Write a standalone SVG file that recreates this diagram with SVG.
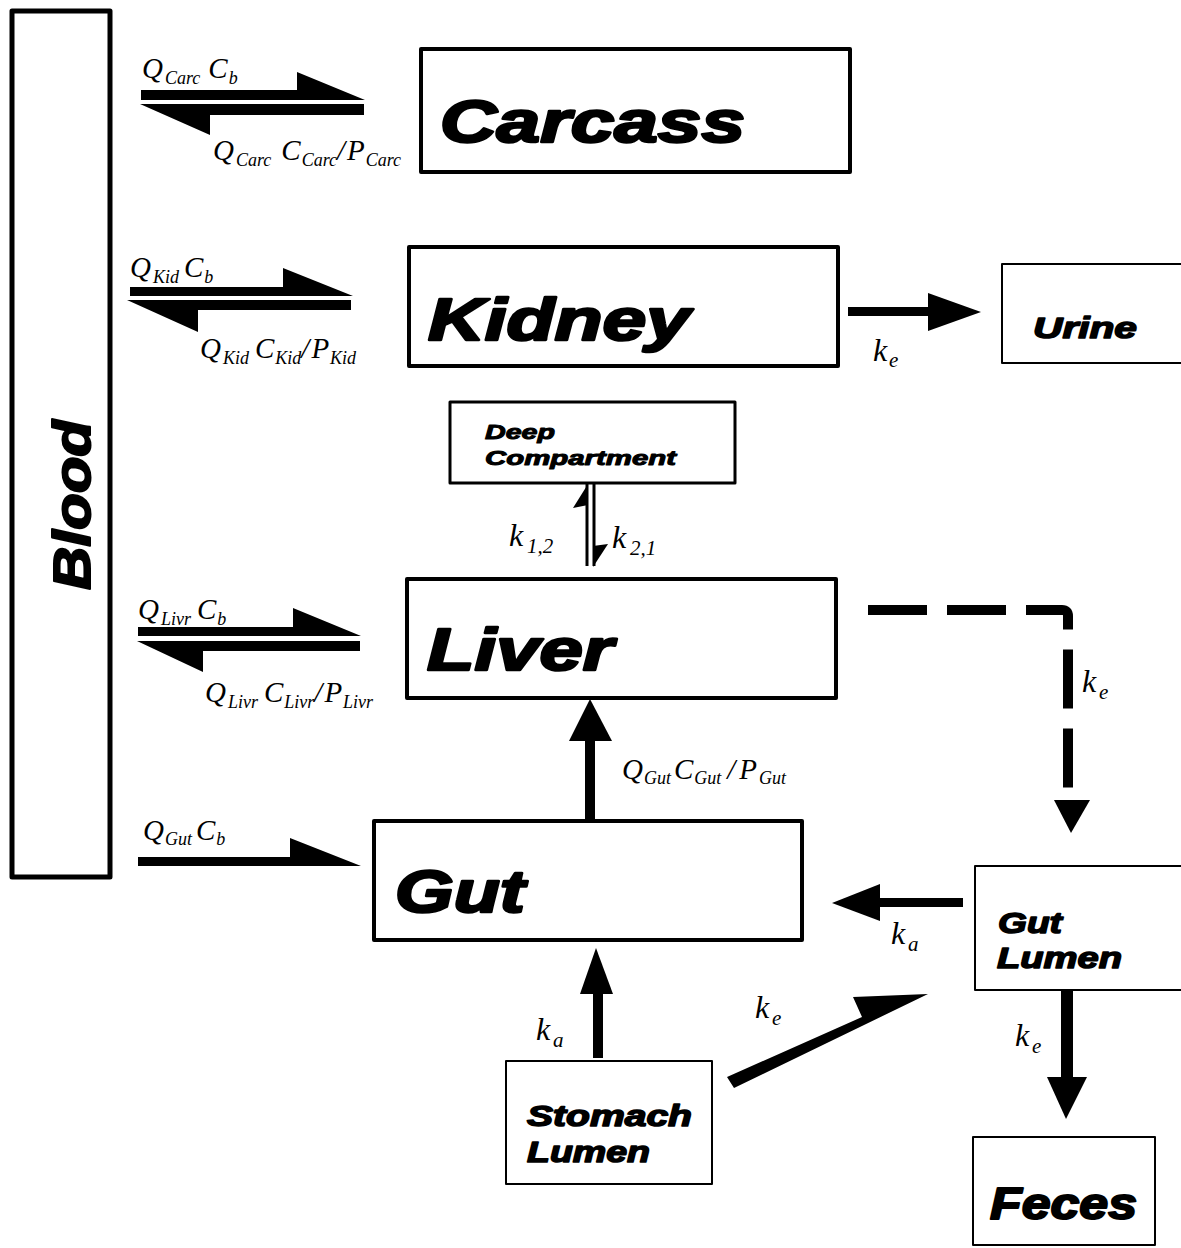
<svg xmlns="http://www.w3.org/2000/svg" width="1181" height="1248" viewBox="0 0 1181 1248">
<style>
.bg{fill:#fff}
.box{fill:#fff;stroke:#000;stroke-linejoin:round}
.b5{stroke-width:5}
.b4{stroke-width:4}
.b3{stroke-width:3}
.b2{stroke-width:2}
.nt{font-family:"Liberation Sans",Arial,sans-serif;font-weight:bold;font-style:italic;fill:#000;stroke:#000;stroke-linejoin:round}
.big{font-size:59px;stroke-width:2.5}
.mid{font-size:30px;stroke-width:1.5}
.sm{font-size:20px;stroke-width:1}
.eq{font-family:"Liberation Serif","Times New Roman",serif;font-style:italic;font-size:29px;fill:#000}
.sub{font-size:18px}
.k{font-family:"Liberation Serif","Times New Roman",serif;font-style:italic;font-size:32px;fill:#000}
.ks{font-size:21px}
.ar{fill:#000;stroke:none}
.ln{stroke:#000;fill:none}
</style>
<rect class="bg" x="0" y="0" width="1181" height="1248"/>

<g id="connectors">
  <!-- Blood <-> Carcass -->
  <polygon class="ar" points="141,90 297,90 297,72 365,100 141,100"/>
  <polygon class="ar" points="364,104 140,104 210,135 210,115 364,115"/>
  <text class="eq" x="142" y="78">Q<tspan class="sub" dx="2" dy="6">Carc</tspan><tspan dx="8" dy="-6">C</tspan><tspan class="sub" dx="1" dy="6">b</tspan></text>
  <text class="eq" x="213" y="160">Q<tspan class="sub" dx="2" dy="6">Carc</tspan><tspan dx="10" dy="-6">C</tspan><tspan class="sub" dx="1" dy="6">Carc</tspan><tspan dy="-6">/</tspan><tspan dx="2">P</tspan><tspan class="sub" dx="1" dy="6">Carc</tspan></text>

  <!-- Blood <-> Kidney -->
  <polygon class="ar" points="130,287 283,287 283,268 353,296 130,296"/>
  <polygon class="ar" points="351,300 127,300 198,332 198,310 351,310"/>
  <text class="eq" x="130" y="277">Q<tspan class="sub" dx="2" dy="6">Kid</tspan><tspan dx="5" dy="-6">C</tspan><tspan class="sub" dx="1" dy="6">b</tspan></text>
  <text class="eq" x="200" y="358">Q<tspan class="sub" dx="2" dy="6">Kid</tspan><tspan dx="6" dy="-6">C</tspan><tspan class="sub" dx="1" dy="6">Kid</tspan><tspan dy="-6">/</tspan><tspan dx="2">P</tspan><tspan class="sub" dx="1" dy="6">Kid</tspan></text>

  <!-- Kidney -> Urine -->
  <rect class="ar" x="848" y="307" width="86" height="9"/>
  <polygon class="ar" points="928,293 981,312 928,331"/>
  <text class="k" y="361"><tspan x="873">k</tspan><tspan class="ks" x="889" dy="6">e</tspan></text>

  <!-- Deep <-> Liver -->
  <line class="ln" x1="587" y1="483" x2="587" y2="566" stroke-width="3"/>
  <line class="ln" x1="594" y1="483" x2="594" y2="566" stroke-width="3"/>
  <polygon class="ar" points="588,484 573,508 588,505"/>
  <polygon class="ar" points="593,567 608,544 593,546"/>
  <text class="k" y="546"><tspan x="509">k</tspan><tspan class="ks" x="527" dy="7">1,2</tspan></text>
  <text class="k" y="548"><tspan x="612">k</tspan><tspan class="ks" x="630" dy="7">2,1</tspan></text>

  <!-- Blood <-> Liver -->
  <polygon class="ar" points="138,627 293,627 293,608 361,636 138,636"/>
  <polygon class="ar" points="360,641 137,641 203,672 203,651 360,651"/>
  <text class="eq" x="138" y="619">Q<tspan class="sub" dx="2" dy="6">Livr</tspan><tspan dx="6" dy="-6">C</tspan><tspan class="sub" dx="1" dy="6">b</tspan></text>
  <text class="eq" x="205" y="702">Q<tspan class="sub" dx="2" dy="6">Livr</tspan><tspan dx="6" dy="-6">C</tspan><tspan class="sub" dx="1" dy="6">Livr</tspan><tspan dy="-6">/</tspan><tspan dx="2">P</tspan><tspan class="sub" dx="1" dy="6">Livr</tspan></text>

  <!-- Liver -> Gut Lumen (dashed) -->
  <path class="ln" d="M868,610 H1062 Q1068,610 1068,616 V790" stroke-width="10" stroke-dasharray="59 20"/>
  <polygon class="ar" points="1054,800 1090,800 1071,833"/>
  <text class="k" y="692"><tspan x="1082">k</tspan><tspan class="ks" x="1099" dy="7">e</tspan></text>

  <!-- Gut -> Liver -->
  <rect class="ar" x="585" y="736" width="10" height="86"/>
  <polygon class="ar" points="569,741 612,741 590,699"/>
  <text class="eq" x="622" y="779">Q<tspan class="sub" dx="1" dy="5">Gut</tspan><tspan dx="3" dy="-5">C</tspan><tspan class="sub" dx="1" dy="5">Gut</tspan><tspan dx="6" dy="-5">/</tspan><tspan dx="4">P</tspan><tspan class="sub" dx="2" dy="5">Gut</tspan></text>

  <!-- Blood -> Gut -->
  <polygon class="ar" points="138,857 290,857 290,838 361,866 138,866"/>
  <text class="eq" x="143" y="840">Q<tspan class="sub" dx="1" dy="5">Gut</tspan><tspan dx="4" dy="-5">C</tspan><tspan class="sub" dx="1" dy="5">b</tspan></text>

  <!-- Gut Lumen -> Gut -->
  <rect class="ar" x="874" y="898" width="89" height="9"/>
  <polygon class="ar" points="880,884 880,921 832,903"/>
  <text class="k" y="944"><tspan x="891">k</tspan><tspan class="ks" x="908" dy="7">a</tspan></text>

  <!-- Stomach Lumen -> Gut -->
  <rect class="ar" x="593" y="985" width="10" height="73"/>
  <polygon class="ar" points="580,994 613,994 596,948"/>
  <text class="k" y="1040"><tspan x="536">k</tspan><tspan class="ks" x="553" dy="7">a</tspan></text>

  <!-- Stomach Lumen -> Gut Lumen -->
  <polygon class="ar" points="727,1077 862,1017 853,997 928,994 734,1088" stroke="#000" stroke-width="2" stroke-linejoin="round"/>
  <text class="k" y="1018"><tspan x="755">k</tspan><tspan class="ks" x="772" dy="7">e</tspan></text>

  <!-- Gut Lumen -> Feces -->
  <rect class="ar" x="1061" y="990" width="12" height="92"/>
  <polygon class="ar" points="1047,1077 1087,1077 1066,1119"/>
  <text class="k" y="1046"><tspan x="1015">k</tspan><tspan class="ks" x="1032" dy="7">e</tspan></text>
</g>

<g id="blood">
  <rect class="box b5" x="12" y="11" width="98" height="866"/>
  <text class="nt" font-size="52" stroke-width="2" text-anchor="middle" textLength="170" lengthAdjust="spacingAndGlyphs" transform="translate(90,505) rotate(-90)" x="0" y="0">Blood</text>
</g>

<g id="carcass">
  <rect class="box b4" x="421" y="49" width="429" height="123"/>
  <text class="nt big" x="440" y="142" textLength="305" lengthAdjust="spacingAndGlyphs">Carcass</text>
</g>

<g id="kidney">
  <rect class="box b4" x="409" y="247" width="429" height="119"/>
  <text class="nt big" x="428" y="340" textLength="262" lengthAdjust="spacingAndGlyphs">Kidney</text>
</g>

<g id="urine">
  <rect class="box b2" x="1002" y="264" width="190" height="99"/>
  <text class="nt mid" x="1033" y="338" textLength="104" lengthAdjust="spacingAndGlyphs">Urine</text>
</g>

<g id="deep">
  <rect class="box b3" x="450" y="402" width="285" height="81"/>
  <text class="nt sm" x="485" y="439" textLength="70" lengthAdjust="spacingAndGlyphs">Deep</text>
  <text class="nt sm" x="485" y="465" textLength="191" lengthAdjust="spacingAndGlyphs">Compartment</text>
</g>

<g id="liver">
  <rect class="box b4" x="407" y="579" width="429" height="119"/>
  <text class="nt big" x="427" y="670" textLength="186" lengthAdjust="spacingAndGlyphs">Liver</text>
</g>

<g id="gut">
  <rect class="box b4" x="374" y="821" width="428" height="119"/>
  <text class="nt big" x="395" y="912" textLength="130" lengthAdjust="spacingAndGlyphs">Gut</text>
</g>

<g id="gut-lumen">
  <rect class="box b2" x="975" y="866" width="215" height="124"/>
  <text class="nt mid" x="998" y="933" textLength="64" lengthAdjust="spacingAndGlyphs">Gut</text>
  <text class="nt mid" x="997" y="968" textLength="125" lengthAdjust="spacingAndGlyphs">Lumen</text>
</g>

<g id="stomach-lumen">
  <rect class="box b2" x="506" y="1061" width="206" height="123"/>
  <text class="nt mid" x="527" y="1126" textLength="165" lengthAdjust="spacingAndGlyphs">Stomach</text>
  <text class="nt mid" x="527" y="1162" textLength="123" lengthAdjust="spacingAndGlyphs">Lumen</text>
</g>

<g id="feces">
  <rect class="box b2" x="973" y="1137" width="182" height="108"/>
  <text class="nt" font-size="44" stroke-width="2" x="990" y="1219" textLength="147" lengthAdjust="spacingAndGlyphs">Feces</text>
</g>
</svg>
